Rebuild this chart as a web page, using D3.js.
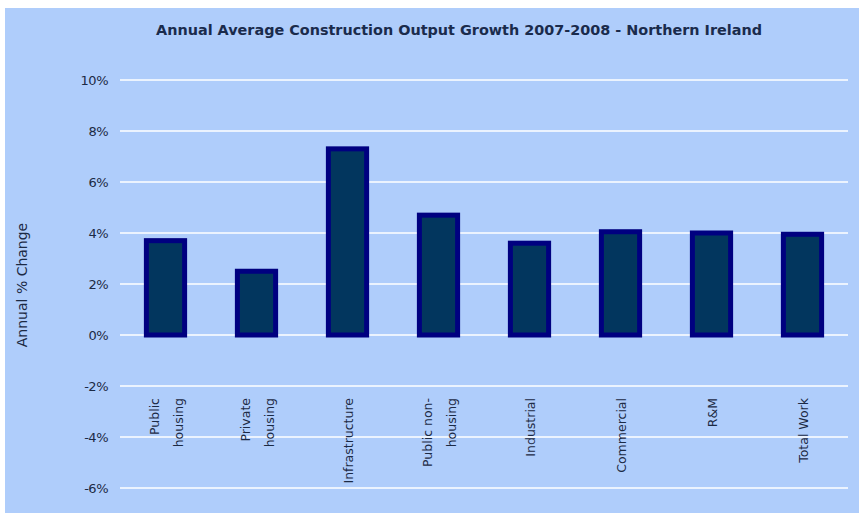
<!DOCTYPE html>
<html>
<head>
<meta charset="utf-8">
<script src="https://cdn.jsdelivr.net/npm/d3@7"></script>
<style>
  body { margin: 0; background: #fff; }
  text { font-family: "DejaVu Sans", sans-serif; }
</style>
</head>
<body>
<div id="chart-area"></div>
<script>
var categories = [["Public", "housing"], ["Private", "housing"], ["Infrastructure"], ["Public non-", "housing"],
  ["Industrial"], ["Commercial"], ["R&M"], ["Total Work"]];
var values = [3.7, 2.5, 7.3, 4.7, 3.6, 4.05, 4.0, 3.95];
var yTicks = [-6, -4, -2, 0, 2, 4, 6, 8, 10];

var W = 859, H = 513;
var margin = { top: 80, right: 11, bottom: 25, left: 120 };
var width = W - margin.left - margin.right;
var height = 488 - margin.top;

var svg = d3.select("#chart-area")
  .append("svg")
  .attr("width", W)
  .attr("height", H);

svg.append("rect")
  .attr("x", 5).attr("y", 8)
  .attr("width", W - 5).attr("height", H - 8)
  .attr("fill", "#afcdfb");

var g = svg.append("g")
  .attr("transform", "translate(" + margin.left + "," + margin.top + ")");

var xScale = d3.scaleBand()
  .domain(d3.range(categories.length))
  .range([0, width])
  .paddingInner(0.58)
  .paddingOuter(0.29);

var yScale = d3.scaleLinear()
  .domain([-6, 10])
  .range([height, 0]);

// gridlines
g.selectAll("line.grid")
  .data(yTicks)
  .enter().append("line")
  .attr("class", "grid")
  .attr("x1", 0).attr("x2", width)
  .attr("y1", d => yScale(d)).attr("y2", d => yScale(d))
  .attr("stroke", "#ffffff")
  .attr("stroke-width", 1.5);

var yAxis = d3.axisLeft(yScale)
  .tickValues(yTicks)
  .tickSize(0)
  .tickPadding(12)
  .tickFormat(d => d + "%");
var yAxisG = g.append("g").call(yAxis);
yAxisG.select(".domain").remove();
yAxisG.selectAll("text")
  .attr("font-size", "13px")
  .attr("letter-spacing", "-0.5px")
  .attr("fill", "#1c2a44")
  .attr("font-family", "'DejaVu Sans', sans-serif");

// bars
g.selectAll("rect.bar")
  .data(values)
  .enter().append("rect")
  .attr("class", "bar")
  .attr("x", (d, i) => xScale(i))
  .attr("width", xScale.bandwidth())
  .attr("y", d => yScale(d))
  .attr("height", d => yScale(0) - yScale(d))
  .attr("fill", "#02365e")
  .attr("stroke", "#000080")
  .attr("stroke-width", 5);

// category labels (rotated)
var labelG = g.selectAll("g.label")
  .data(categories)
  .enter().append("g")
  .attr("class", "label")
  .attr("transform", (d, i) => "translate(" + (xScale(i) + xScale.bandwidth() / 2) + "," + (yScale(-2) + 12) + ") rotate(-90)");

labelG.each(function (d) {
  var n = d.length;
  d3.select(this).selectAll("text")
    .data(d)
    .enter().append("text")
    .attr("x", 0)
    .attr("y", (t, j) => (j - (n - 1) / 2) * 24 + 5)
    .attr("text-anchor", "end")
    .attr("font-size", "12.5px")
    .attr("fill", "#1c2a44")
    .text(t => t);
});

// title
svg.append("text")
  .attr("x", 459)
  .attr("y", 35)
  .attr("text-anchor", "middle")
  .attr("font-size", "14.4px")
  .attr("font-weight", "bold")
  .attr("fill", "#1a2b4c")
  .text("Annual Average Construction Output Growth 2007-2008 - Northern Ireland");

// y axis title
svg.append("text")
  .attr("transform", "translate(27,285) rotate(-90)")
  .attr("text-anchor", "middle")
  .attr("font-size", "14px")
  .attr("fill", "#1c2a44")
  .text("Annual % Change");
</script>
</body>
</html>
